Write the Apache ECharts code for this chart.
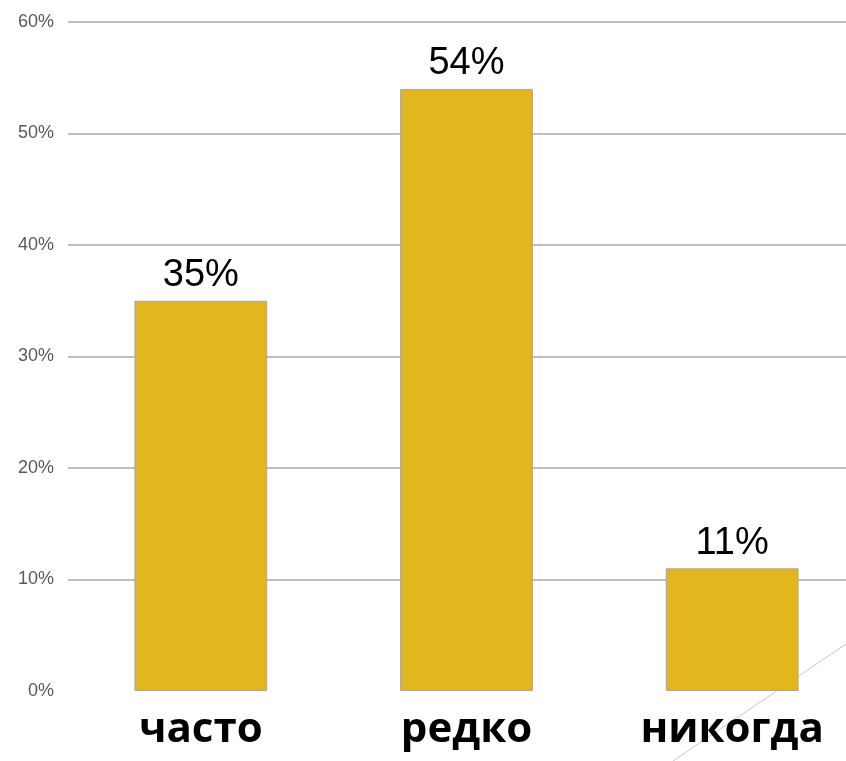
<!DOCTYPE html>
<html><head><meta charset="utf-8">
<script src="https://cdn.jsdelivr.net/npm/echarts@6/dist/echarts.min.js"></script>
<style>html,body{margin:0;padding:0;background:#fff}#c{width:846px;height:761px}</style>
</head><body><div id="c"></div>
<script>
const categories = ['часто', 'редко', 'никогда'];
const values = [35, 54, 11];
const yTicks = [0, 10, 20, 30, 40, 50, 60];

const chart = echarts.init(document.getElementById('c'), null, {renderer: 'canvas'});
chart.setOption({
  animation: false,
  grid: {left: 68, right: -19, top: 22, bottom: 70, containLabel: false, outerBoundsMode: 'none'},
  graphic: [{
    type: 'line', z: -10, silent: true,
    shape: {x1: 673, y1: 761, x2: 846, y2: 644},
    style: {stroke: '#c8c8c8', lineWidth: 1}
  }],
  xAxis: {
    type: 'category', data: categories,
    axisLine: {show: false}, axisTick: {show: false},
    axisLabel: {fontFamily: 'Open Sans', fontWeight: 'bold', fontSize: 42, color: '#000', margin: 18}
  },
  yAxis: {
    type: 'value', min: yTicks[0], max: yTicks[yTicks.length - 1], interval: 10,
    axisLine: {show: false}, axisTick: {show: false},
    axisLabel: {formatter: '{value}%', fontFamily: 'Liberation Sans', fontSize: 18, color: '#595959', margin: 14},
    splitLine: {show: true, showMinLine: false, lineStyle: {color: '#bfbfbf', width: 2}}
  },
  series: [{
    type: 'bar', data: values, barWidth: '50%',
    itemStyle: {color: '#E2B61F', borderColor: '#a6a6a6', borderWidth: 1},
    label: {show: true, position: 'top', formatter: '{c}%', fontFamily: 'Liberation Sans', fontSize: 38, color: '#000', distance: 6}
  }]
});
</script></body></html>
